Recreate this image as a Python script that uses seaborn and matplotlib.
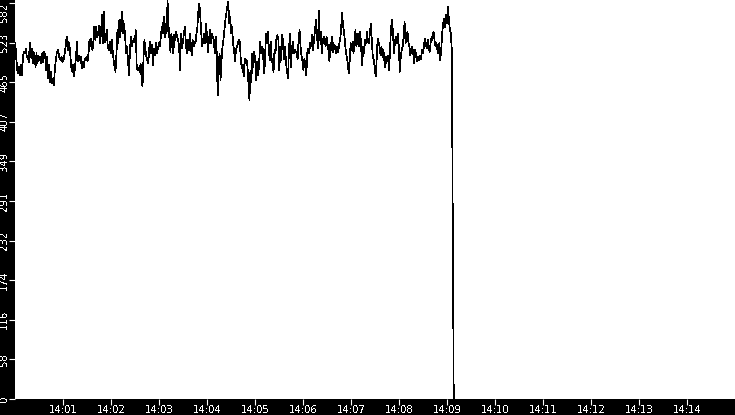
#!/usr/bin/env python3
"""Throughput trace 14:00-14:15, recreated with seaborn."""

import matplotlib

matplotlib.use("Agg")
import matplotlib.dates as mdates
import matplotlib.pyplot as plt
import matplotlib.ticker as mticker
import pandas as pd
import seaborn as sns

START = "2024-01-01 14:00:00"
END = "2024-01-01 14:15:00"
SAMPLE_STEP = "1205ms"

# samples, left to right
VALUES_1400 = [
    523, 501, 484, 479, 488, 476, 491, 476, 505, 510,
    508, 514, 503, 505, 495, 523, 503, 515, 493, 510,
    503, 488, 508, 493, 505, 498, 503, 493, 508, 495,
    510, 505, 483, 503, 471, 491, 466, 481, 464, 471,
    461, 483, 498, 508, 513, 508, 500, 498, 503, 495,
    498, 505, 515, 528, 532, 513, 523,
]
VALUES_1401 = [
    508, 488, 481, 491, 474, 488, 503, 525, 496, 505,
    498, 503, 486, 496, 488, 500, 498, 503, 496, 508,
    528, 518, 530, 513, 523, 547, 528, 547, 532, 537,
    549, 523, 540, 564, 523, 569, 525, 528, 542, 518,
    513, 525, 508, 528, 513, 498, 488, 481, 508, 542,
    523, 557, 532, 557, 569, 537, 552, 532, 508, 518,
    498, 476,
]
VALUES_1402 = [
    513, 532, 518, 525, 530, 525, 542, 488, 483, 486,
    481, 493, 474, 459, 500, 528, 513, 503, 498, 493,
    515, 525, 508, 520, 491, 515, 505, 523, 508, 515,
    523, 518, 532, 547, 537, 562, 532, 552, 537, 586,
    549, 528, 510, 537, 518, 508, 535, 528, 540, 532,
    528, 518, 483, 537, 515, 525, 537,
]
VALUES_1403 = [
    547, 523, 508, 528, 513, 537, 523, 505, 528, 518,
    525, 523, 537, 547, 571, 581, 562, 537, 518, 528,
    537, 523, 552, 532, 510, 528, 542, 523, 537, 532,
    528, 508, 532, 510, 446, 488, 508, 469, 498, 518,
    528, 542, 557, 567, 577, 584, 552, 562, 537, 547,
    523, 513, 496, 513, 518, 523, 528,
]
VALUES_1404 = [
    525, 498, 486, 491, 474, 500, 493, 498, 488, 464,
    439, 483, 466, 508, 488, 510, 498, 469, 496, 476,
    491, 525, 508, 518, 513, 479, 491, 537, 523, 540,
    518, 498, 525, 500, 493, 481, 513, 508, 530, 535,
    528, 483, 518, 498, 535, 523, 500, 518, 493, 481,
    471, 513, 537, 488, 513, 525, 508, 513, 510, 508,
    500,
]
VALUES_1405 = [
    528, 542, 518, 505, 496, 483, 500, 491, 476, 508,
    515, 508, 523, 518, 535, 513, 528, 542, 557, 537,
    515, 571, 528, 540, 508, 523, 532, 528, 518, 532,
    523, 513, 496, 523, 513, 532, 510, 520, 518, 508,
    518, 510, 520, 528, 540, 567, 552, 540, 528, 510,
    503, 493, 479, 496, 523, 513, 525, 508, 528, 542,
    518,
]
VALUES_1407 = [
    528, 537, 518, 540, 513, 491, 518, 508, 528, 523,
    540, 525, 523, 537, 552, 528, 503, 498, 488, 474,
    498, 530, 525, 518, 505, 518, 503, 513, 498, 488,
    503, 496, 505, 483, 518, 547, 557, 537, 508, 525,
    532, 523, 537, 518, 481, 503, 513, 518, 532, 554,
    523, 528, 540, 523, 518, 505, 513, 518, 508, 493,
]
VALUES_1408 = [
    513, 505, 496, 503, 498, 505, 500, 513, 508, 518,
    530, 523, 515, 528, 518, 510, 523, 532, 528, 540,
    528, 518, 523, 513, 508, 523, 498, 513, 537, 552,
    559, 547, 564, 552, 577, 557, 542, 537, 513,
]
VALUES_DROP = [241, 0]

Y_MAX = 586.4
Y_STEP = 58.2
X_TICKS = [f"2024-01-01 14:{m:02d}" for m in range(1, 15)]


def build_frame() -> pd.DataFrame:
    values = (
        VALUES_1400 + VALUES_1401 + VALUES_1402 + VALUES_1403
        + VALUES_1404 + VALUES_1405 + VALUES_1407 + VALUES_1408
        + VALUES_DROP
    )
    times = pd.date_range(START, periods=len(values), freq=SAMPLE_STEP)
    return pd.DataFrame({"time": times, "value": values})


def plot(df: pd.DataFrame) -> None:
    sns.set_theme(style="white")
    plt.rcParams["font.family"] = ["DejaVu Sans"]
    plt.rcParams["text.antialiased"] = False

    fig = plt.figure(figsize=(7.35, 4.15), dpi=100, facecolor="black")
    ax = fig.add_axes([15.3 / 735, 16 / 415, 1 - 15.3 / 735, 1 - 16 / 415])
    ax.set_facecolor("white")

    sns.lineplot(
        data=df, x="time", y="value", ax=ax,
        color="black", linewidth=0.5, antialiased=False,
    )

    ax.set_xlim(pd.Timestamp(START), pd.Timestamp(END))
    ax.set_ylim(0, Y_MAX)

    ax.set_xticks(pd.to_datetime(X_TICKS))
    ax.xaxis.set_major_formatter(mdates.DateFormatter("%H:%M"))
    yticks = [Y_STEP * k for k in range(11)]
    ax.set_yticks(yticks)
    ax.yaxis.set_major_formatter(mticker.FuncFormatter(lambda v, _: f"{int(v + 1e-6)}"))

    ax.tick_params(
        axis="both", which="major", direction="out", length=4.3, width=0.8,
        color="white", labelcolor="white", labelsize=7.3, pad=0,
        bottom=True, left=True,
    )
    ylabels = ax.get_yticklabels()
    for lab in ylabels:
        lab.set_rotation(90)
        lab.set_va("center")
    # top label is pushed down so it stays inside the figure
    ylabels[-1].set_va("top")

    for spine in ax.spines.values():
        spine.set_visible(False)

    ax.set_xlabel("")
    ax.set_ylabel("")

    fig.savefig("out.png", dpi=100, facecolor="black")
    plt.close(fig)


def main() -> None:
    plot(build_frame())


if __name__ == "__main__":
    main()
